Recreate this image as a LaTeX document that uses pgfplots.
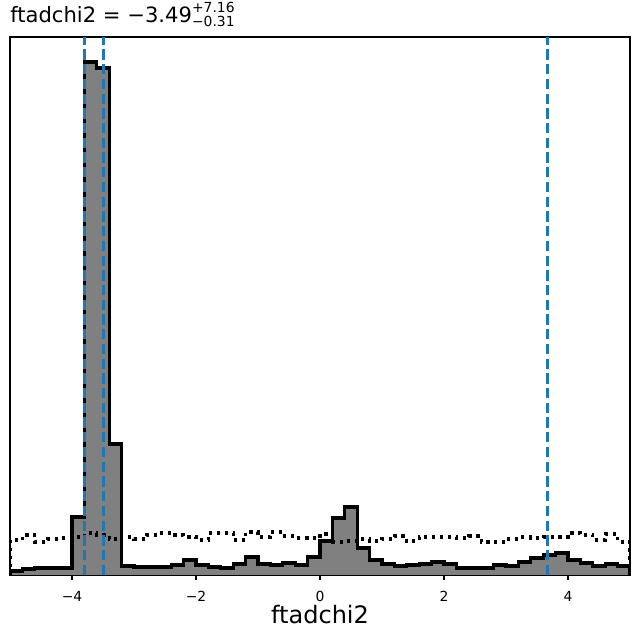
\documentclass[border=0pt]{standalone}
\usepackage{fontspec}
\setmainfont{DejaVu Sans}
\usepackage{pgfplots}
\pgfplotsset{compat=1.18}
\definecolor{tabblue}{HTML}{1F77B4}
\definecolor{hgray}{HTML}{808080}
\newcommand{\scr}{\fontsize{10bp}{12bp}\selectfont}

\begin{document}
\begin{tikzpicture}
\begin{axis}[
    at={(0,0)}, anchor=south west,
    scale only axis, width=446.4bp, height=387.36bp,
    xmin=-5, xmax=5, ymin=0, ymax=538,
    xtick={-4,-2,0,2,4}, xticklabels={−4,−2,0,2,4},
    ytick=\empty,
    xtick pos=lower, xtick align=outside,
    major tick length=3.5bp,
    tick style={black, line width=0.8bp},
    axis line style={line width=0.8bp},
    xticklabel style={font=\fontsize{10bp}{12bp}\selectfont, inner sep=0pt, anchor=base, yshift=-15.8bp},
    xlabel={ftadchi2},
    xlabel style={at={(axis description cs:0.5,0)}, anchor=base, inner sep=0pt, yshift=-34.6bp, font=\fontsize{17.3bp}{20bp}\selectfont},
    every axis title shift=0pt,
    title={ftadchi2 = −3.49\rlap{\raisebox{7.2bp}{\scr +7.16}}\raisebox{-2.9bp}{\scr −0.31}},
    title style={at={(axis description cs:0,1)}, anchor=base west, inner sep=0pt, yshift=10.3bp, font=\fontsize{15.2bp}{18bp}\selectfont},
]
% filled histogram (bin width 0.2, heights in pixel units)
\addplot[const plot mark left, fill=hgray, draw=black, line width=2.2bp] coordinates {
(-5,0) (-5.0,4) (-4.8,6) (-4.6,7) (-4.4,7) (-4.2,7) (-4.0,58) (-3.8,513) (-3.6,507) (-3.4,131) (-3.2,9)
(-3.0,8) (-2.8,8) (-2.6,8) (-2.4,10) (-2.2,15) (-2.0,10) (-1.8,8) (-1.6,7) (-1.4,11) (-1.2,18)
(-1.0,11) (-0.8,10) (-0.6,12) (-0.4,10) (-0.2,18) (0.0,34) (0.2,57) (0.4,68) (0.6,27) (0.8,15)
(1.0,11) (1.2,9) (1.4,10) (1.6,11) (1.8,13) (2.0,11) (2.2,7) (2.4,7) (2.6,7) (2.8,10)
(3.0,9) (3.2,13) (3.4,17) (3.6,20) (3.8,22) (4.0,15) (4.2,12) (4.4,9) (4.6,11) (4.8,9)
(5,9) (5,0)
};
% dotted reference histogram
\addplot[const plot mark left, black, line width=2.3bp, dash pattern=on 2.3bp off 3.4bp] coordinates {
(-5,0) (-5.0,35) (-4.8,40) (-4.6,33) (-4.4,36) (-4.2,37) (-4.0,38) (-3.8,42) (-3.6,40) (-3.4,36) (-3.2,38)
(-3.0,36) (-2.8,40) (-2.6,42) (-2.4,40) (-2.2,38) (-2.0,35) (-1.8,42) (-1.6,42) (-1.4,35) (-1.2,43)
(-1.0,38) (-0.8,43) (-0.6,39) (-0.4,37) (-0.2,37) (0.0,41) (0.2,33) (0.4,34) (0.6,36) (0.8,34)
(1.0,36) (1.2,39) (1.4,34) (1.6,38) (1.8,38) (2.0,38) (2.2,37) (2.4,39) (2.6,33) (2.8,33)
(3.0,36) (3.2,38) (3.4,37) (3.6,38) (3.8,38) (4.0,42) (4.2,40) (4.4,35) (4.6,41) (4.8,33)
(5,33) (5,0)
};
% quantile markers
\addplot[tabblue, line width=2bp, dash pattern=on 7.4bp off 3.2bp] coordinates {(-3.80,0) (-3.80,538)};
\addplot[tabblue, line width=2bp, dash pattern=on 7.4bp off 3.2bp] coordinates {(-3.49,0) (-3.49,538)};
\addplot[tabblue, line width=2bp, dash pattern=on 7.4bp off 3.2bp] coordinates {(3.67,0) (3.67,538)};
\end{axis}
\pgfresetboundingbox
\path[use as bounding box] (-7.2bp,-46.08bp) rectangle (453.6bp,414bp);
\end{tikzpicture}
\end{document}
